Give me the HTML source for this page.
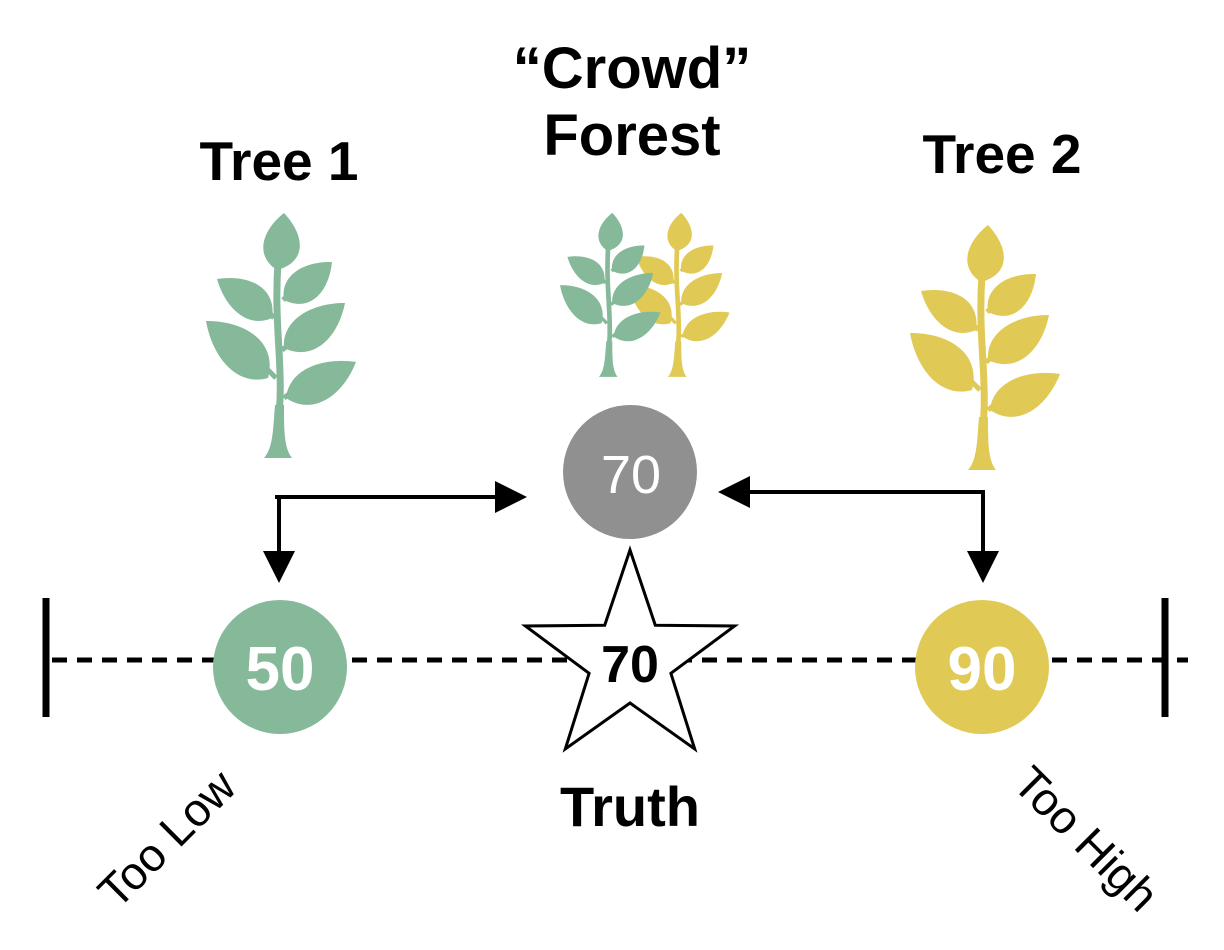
<!DOCTYPE html>
<html><head><meta charset="utf-8"><style>
html,body{margin:0;padding:0;background:#fff;}
svg{display:block;font-family:"Liberation Sans",Arial,sans-serif;}
</style></head><body>
<svg id="chart" width="1224" height="950" viewBox="0 0 1224 950" xmlns="http://www.w3.org/2000/svg">
<defs>
<marker id="ah" markerWidth="8" markerHeight="8" refX="6" refY="4" orient="auto" markerUnits="strokeWidth">
<path d="M0,0 L8,4 L0,8 Z" fill="#000"/></marker>
</defs>
<g id="plants"></g>

<text x="279" y="180" font-size="55" font-weight="bold" text-anchor="middle">Tree 1</text>
<text x="632" y="88" font-size="58" font-weight="bold" text-anchor="middle">“Crowd”</text>
<text x="632" y="155" font-size="58" font-weight="bold" text-anchor="middle">Forest</text>
<text x="1002" y="173" font-size="55" font-weight="bold" text-anchor="middle">Tree 2</text>

<line x1="52" y1="660" x2="1188" y2="660" stroke="#000" stroke-width="5" stroke-dasharray="15 10"/>
<line x1="46" y1="598" x2="46" y2="717" stroke="#000" stroke-width="7"/>
<line x1="1165" y1="598" x2="1165" y2="717" stroke="#000" stroke-width="7"/>

<polyline points="275,497 519,497" fill="none" stroke="#000" stroke-width="4" marker-end="url(#ah)"/>
<polyline points="279,497 279,575" fill="none" stroke="#000" stroke-width="4" marker-end="url(#ah)"/>
<polyline points="985,492 726,492" fill="none" stroke="#000" stroke-width="4" marker-end="url(#ah)"/>
<polyline points="983,492 983,575" fill="none" stroke="#000" stroke-width="4" marker-end="url(#ah)"/>

<circle cx="630" cy="472" r="67" fill="#909090"/>
<text x="631" y="493" font-size="54" fill="#fff" text-anchor="middle">70</text>

<circle cx="280" cy="667" r="67" fill="#85B99A"/>
<text x="280" y="690" font-size="62" font-weight="bold" fill="#fff" text-anchor="middle">50</text>
<circle cx="982" cy="667" r="67" fill="#E0CA55"/>
<text x="982" y="690" font-size="62" font-weight="bold" fill="#fff" text-anchor="middle">90</text>

<polygon id="star" fill="#fff" stroke="#000" stroke-width="3"/>
<text x="630" y="682" font-size="52" font-weight="bold" text-anchor="middle">70</text>
<text x="630" y="826" font-size="56" font-weight="bold" text-anchor="middle">Truth</text>

<text x="0" y="0" font-size="46" text-anchor="middle" transform="translate(178,850) rotate(-45)">Too Low</text>
<text x="0" y="0" font-size="46" text-anchor="middle" transform="translate(1075,850) rotate(45)">Too High</text>
</svg>
<script>
const NS="http://www.w3.org/2000/svg";
const pts=[];const cx=630,cy=660,R=110,r=43;
for(let i=0;i<10;i++){const a=-Math.PI/2+i*Math.PI/5;const rr=i%2?r:R;pts.push((cx+rr*Math.cos(a)).toFixed(1)+","+(cy+rr*Math.sin(a)).toFixed(1));}
document.getElementById('star').setAttribute('points',pts.join(' '));

function leaf(b,t,w){
  const dx=t[0]-b[0],dy=t[1]-b[1];const L=Math.hypot(dx,dy);
  const px=-dy/L,py=dx/L;
  const a1=[b[0]+dx*0.2+px*w*1.3,b[1]+dy*0.2+py*w*1.3];
  const a2=[b[0]+dx*0.65+px*w*1.1,b[1]+dy*0.65+py*w*1.1];
  const c1=[b[0]+dx*0.65-px*w*0.9,b[1]+dy*0.65-py*w*0.9];
  const c2=[b[0]+dx*0.2-px*w*1.1,b[1]+dy*0.2-py*w*1.1];
  return `M${b[0]},${b[1]} C${a1} ${a2} ${t[0]},${t[1]} C${c1} ${c2} ${b[0]},${b[1]}Z`;
}
function plantPath(){
  let d="";
  d+=leaf([277,270],[284,213],22);
  d+=leaf([284,300],[332,262],20);
  d+=leaf([272,318],[217,279],21);
  d+=leaf([284,348],[345,303],22);
  d+=leaf([268,378],[206,321],25);
  d+=leaf([286,398],[356,362],22);
  return d;
}
function makePlant(name,color,tx,ty,s){
  const g=document.createElementNS(NS,'g');
  
  
  g.setAttribute('transform',`translate(${tx},${ty}) scale(${s})`);
  const p=document.createElementNS(NS,'path');
  p.setAttribute('d',plantPath());p.setAttribute('fill',color);
  g.appendChild(p);
  const st=document.createElementNS(NS,'path');
  st.setAttribute('d','M278,262 C274,320 282,360 280,400 C278,430 277,445 278,455');
  st.setAttribute('stroke',color);st.setAttribute('stroke-width','7');st.setAttribute('fill','none');
  g.appendChild(st);
  const br=document.createElementNS(NS,'path');
  br.setAttribute('d','M283,300 L300,284 M274,318 L262,304 M282,350 L300,336 M276,378 L256,358 M284,398 L304,382');
  br.setAttribute('stroke',color);br.setAttribute('stroke-width','5');br.setAttribute('fill','none');
  g.appendChild(br);
  const tr=document.createElementNS(NS,'path');
  tr.setAttribute('d','M275,405 C273,430 273,448 264,458 L292,458 C284,448 284,430 284,405 Z');
  tr.setAttribute('fill',color);
  g.appendChild(tr);
  document.getElementById('plants').appendChild(g);
}
makePlant('tree-1-icon','#85B99A',0,0,1);
makePlant('tree-2-icon','#E0CA55',704,12,1);
makePlant('forest-yellow-tree-icon','#E0CA55',491,70,0.67);
makePlant('forest-green-tree-icon','#85B99A',422,70,0.67);
</script>
</body></html>
